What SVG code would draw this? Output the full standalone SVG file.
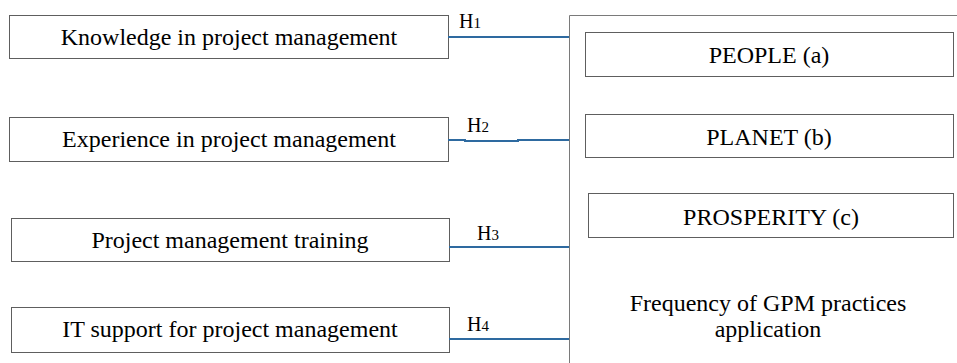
<svg xmlns="http://www.w3.org/2000/svg" width="957" height="363" viewBox="0 0 957 363">
<style>
.box{fill:#fff;stroke:#5e5e5e;stroke-width:1}
.t{font-family:"Liberation Serif","Times New Roman",serif;font-size:24px;fill:#000;text-anchor:middle}
.h{font-family:"Liberation Serif","Times New Roman",serif;font-size:20px;fill:#000}
.sub{font-size:15px}
.c{stroke:#2e6aa0;stroke-width:2;fill:none}
</style>
<rect width="957" height="363" fill="#fff"/>
<g id="frame"><path d="M569.5,363 V15.5 H957" fill="none" stroke="#7a7a7a" stroke-width="1"/></g>
<g id="n1"><rect class="box" x="9.5" y="15.5" width="439" height="43"/><text class="t" x="229" y="45">Knowledge in project management</text></g>
<g id="n2"><rect class="box" x="9.5" y="117.5" width="439" height="44"/><text class="t" x="229" y="147">Experience in project management</text></g>
<g id="n3"><rect class="box" x="11.5" y="218.5" width="438" height="43"/><text class="t" x="230" y="248">Project management training</text></g>
<g id="n4"><rect class="box" x="11.5" y="307.5" width="438" height="45"/><text class="t" x="230" y="337">IT support for project management</text></g>
<g id="r1"><rect class="box" x="585.5" y="32.5" width="368" height="44"/><text class="t" x="769" y="63">PEOPLE (a)</text></g>
<g id="r2"><rect class="box" x="585.5" y="114.5" width="368" height="43"/><text class="t" x="769" y="145">PLANET (b)</text></g>
<g id="r3"><rect class="box" x="588.5" y="193.5" width="365" height="44"/><text class="t" x="771" y="225">PROSPERITY (c)</text></g>
<g id="outcome"><text class="t" x="768" y="311">Frequency of GPM practices</text><text class="t" x="768" y="337">application</text></g>
<g id="connectors">
<line class="c" x1="448" y1="37" x2="569" y2="37"/>
<path class="c" d="M448,140 H465 V141 H518 V140 H569"/>
<line class="c" x1="449" y1="247" x2="569" y2="247"/>
<line class="c" x1="449" y1="339" x2="569" y2="339"/>
<text class="h" x="459" y="28">H<tspan class="sub">1</tspan></text>
<text class="h" x="467" y="132">H<tspan class="sub">2</tspan></text>
<text class="h" x="477" y="240">H<tspan class="sub">3</tspan></text>
<text class="h" x="467" y="331">H<tspan class="sub">4</tspan></text>
</g>
</svg>
